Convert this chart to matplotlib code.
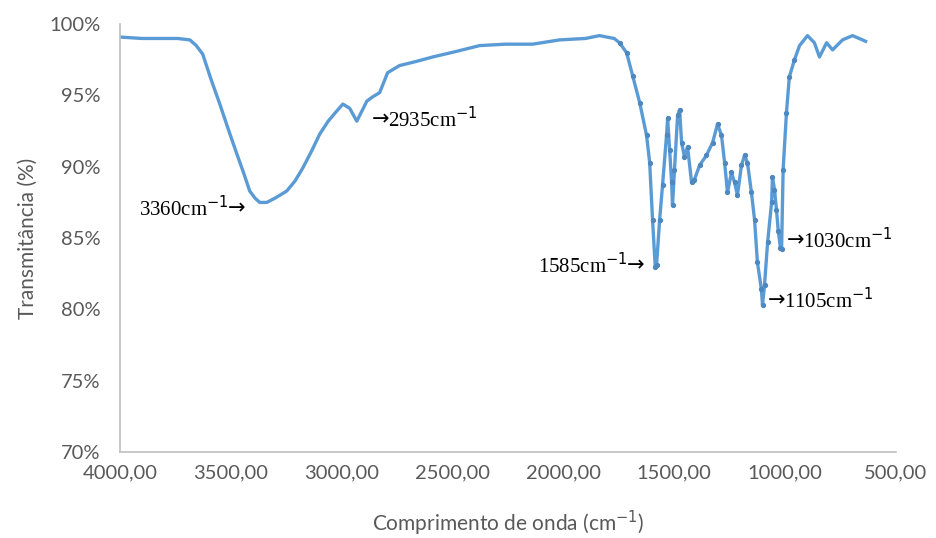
import matplotlib.pyplot as plt
from matplotlib.ticker import FuncFormatter

# FTIR spectrum, wavenumber (cm-1) vs transmittance (%)
wavenumber = [4000, 3900, 3800, 3740, 3684, 3655, 3626, 3590, 3549, 3510,
              3472, 3440, 3414, 3390, 3369, 3350, 3337, 3300, 3247, 3210,
              3175, 3135, 3098, 3060, 3022, 2994, 2963, 2931, 2905, 2886,
              2860, 2828, 2792, 2738, 2660, 2589, 2480, 2377, 2260, 2138,
              2016, 1900, 1836, 1804, 1770, 1746, 1714, 1687, 1655, 1624,
              1610, 1597, 1585, 1579, 1565, 1552, 1534, 1529, 1520, 1511,
              1507, 1498, 1484, 1475, 1466, 1453, 1439, 1421, 1408, 1385,
              1354, 1326, 1304, 1286, 1272, 1259, 1241, 1227, 1214, 1196,
              1182, 1169, 1151, 1137, 1124, 1106, 1101, 1092, 1078, 1060,
              1056, 1047, 1038, 1030, 1020, 1015, 1008, 993, 980, 957,
              934, 898, 867, 844, 812, 785, 740, 695, 650, 636]
transmittance = [99.1, 99.0, 99.0, 99.0, 98.9, 98.5, 97.9, 96.2, 94.4, 92.6,
                 90.9, 89.5, 88.3, 87.8, 87.5, 87.5, 87.5, 87.8, 88.3, 89.0,
                 89.9, 91.1, 92.3, 93.2, 93.9, 94.4, 94.1, 93.2, 94.0, 94.6,
                 94.9, 95.2, 96.6, 97.1, 97.4, 97.7, 98.1, 98.5, 98.6, 98.6,
                 98.9, 99.0, 99.2, 99.1, 99.0, 98.7, 98.0, 96.4, 94.5, 92.2,
                 90.3, 86.3, 83.0, 83.1, 86.3, 88.7, 92.2, 93.4, 91.2, 88.9,
                 87.3, 89.8, 93.6, 94.0, 91.7, 90.7, 91.4, 88.9, 89.1, 90.1,
                 90.8, 91.7, 93.0, 92.2, 90.3, 88.2, 89.6, 88.9, 88.0, 90.1,
                 90.8, 90.3, 88.2, 86.3, 83.3, 81.4, 80.3, 81.7, 84.7, 87.5,
                 89.3, 88.4, 87.0, 85.5, 84.3, 84.2, 89.8, 93.8, 96.3, 97.5,
                 98.5, 99.2, 98.7, 97.7, 98.7, 98.2, 98.9, 99.2, 98.9, 98.8]

peak_labels = ["3360cm$^{-1}$", "2935cm$^{-1}$", "1585cm$^{-1}$",
               "1030cm$^{-1}$", "1105cm$^{-1}$"]
peak_x = [3436, 2864, 1633, 993, 1078]
peak_y = [87.1, 93.3, 83.1, 84.85, 80.6]
arrow_side = ["right", "left", "right", "left", "left"]

blue = "#5B9BD5"
grey = "#595959"
serif = ["Liberation Serif", "DejaVu Serif"]

fig = plt.figure(figsize=(9.36, 5.38), dpi=100)
ax = fig.add_axes([0.128, 0.16, 0.829, 0.795])

# markers only show up as separate dots in the fingerprint region
dotted = [i for i, w in enumerate(wavenumber) if 940 <= w <= 1760]
ax.plot(wavenumber, transmittance, color=blue, lw=2.4, solid_joinstyle="round",
        marker="o", ms=2.8, mfc="#4F88BE", mec="#4F88BE", markevery=dotted)

arrow_w = 12.0  # width of the arrow glyph, points
for text, x, y, side in zip(peak_labels, peak_x, peak_y, arrow_side):
    if side == "right":
        ax.annotate("\u2192", (x, y), ha="right", va="center", fontsize=15,
                    family="DejaVu Sans", color="black")
        ax.annotate(text, (x, y), xytext=(-arrow_w, 0), textcoords="offset points",
                    ha="right", va="center", fontsize=15, family=serif)
    else:
        ax.annotate("\u2192", (x, y), ha="left", va="center", fontsize=15,
                    family="DejaVu Sans", color="black")
        ax.annotate(text, (x, y), xytext=(arrow_w, 0), textcoords="offset points",
                    ha="left", va="center", fontsize=15, family=serif)

ax.set_xlim(4000, 500)
ax.set_ylim(70, 100)
ax.set_xticks(range(4000, 499, -500))
ax.set_yticks(range(70, 101, 5))
ax.xaxis.set_major_formatter(FuncFormatter(lambda v, p: f"{v:.2f}".replace(".", ",")))
ax.yaxis.set_major_formatter(FuncFormatter(lambda v, p: f"{v:.0f}%"))
ax.tick_params(length=0, labelsize=14.5, labelcolor=grey)
ax.tick_params(axis="y", pad=14)
ax.tick_params(axis="x", pad=9)
for lab in ax.get_xticklabels() + ax.get_yticklabels():
    lab.set_family("Lato")

for side in ["top", "right"]:
    ax.spines[side].set_visible(False)
for side in ["left", "bottom"]:
    ax.spines[side].set_color("#BFBFBF")
    ax.spines[side].set_linewidth(1.2)

ax.set_xlabel("Comprimento de onda (cm$^{-1}$)", fontsize=15, color=grey,
              family="Lato", labelpad=20)
ax.set_ylabel("Transmitância (%)", fontsize=15, color=grey, family="Lato",
              labelpad=8)

fig.savefig("out.png", dpi=100)
